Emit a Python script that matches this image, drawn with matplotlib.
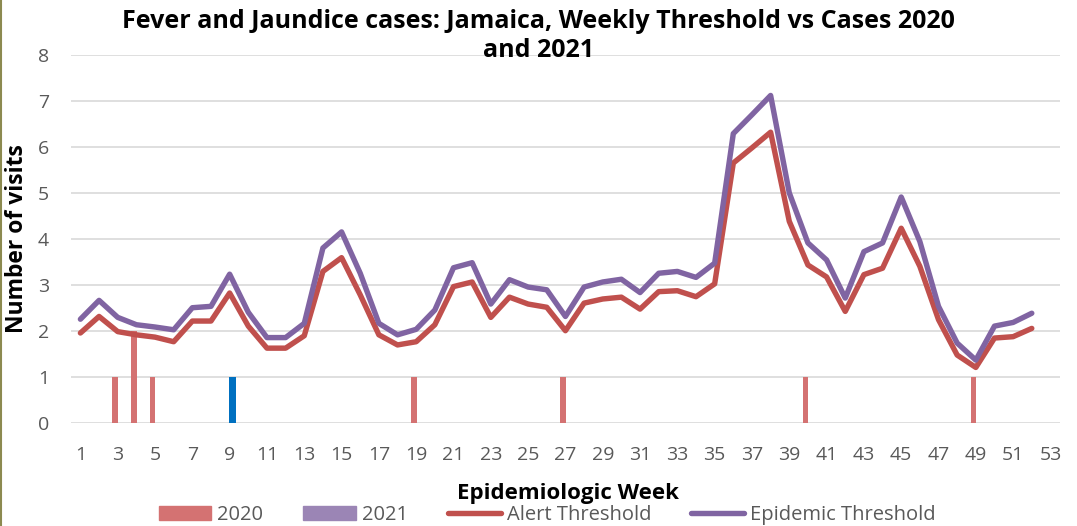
import numpy as np
import matplotlib.pyplot as plt
from matplotlib.patches import Patch
from matplotlib.lines import Line2D

plt.rcParams['font.family'] = ['Open Sans', 'DejaVu Sans']

# weekly thresholds (weeks 1-52)
weeks = np.arange(1, 53)
alert = [1.95, 2.31, 1.98, 1.91, 1.86, 1.76, 2.21, 2.21, 2.82, 2.10,
         1.62, 1.62, 1.89, 3.29, 3.59, 2.78, 1.91, 1.69, 1.76, 2.13,
         2.96, 3.06, 2.29, 2.73, 2.58, 2.51, 2.00, 2.60, 2.69, 2.73,
         2.47, 2.85, 2.87, 2.74, 3.02, 5.65, 5.98, 6.32, 4.38, 3.43,
         3.17, 2.42, 3.22, 3.36, 4.23, 3.40, 2.24, 1.47, 1.20, 1.84,
         1.87, 2.05]
epidemic = [2.25, 2.66, 2.29, 2.13, 2.08, 2.02, 2.50, 2.53, 3.23, 2.40,
            1.85, 1.85, 2.16, 3.80, 4.15, 3.25, 2.16, 1.91, 2.03, 2.45,
            3.37, 3.48, 2.58, 3.11, 2.95, 2.89, 2.31, 2.95, 3.06, 3.12,
            2.83, 3.25, 3.29, 3.16, 3.47, 6.29, 6.70, 7.12, 5.00, 3.91,
            3.54, 2.71, 3.72, 3.91, 4.91, 3.94, 2.53, 1.73, 1.36, 2.10,
            2.18, 2.38]

# cases
weeks_2020 = [3, 4, 5, 19, 27, 40, 49]
cases_2020 = [1, 2, 1, 1, 1, 1, 1]
weeks_2021 = [9]
cases_2021 = [1]

c2020 = '#D47272'
c2021 = '#9B85B5'
calert = '#C0504D'
cepi = '#8064A2'
grey = '#595959'

fig = plt.figure(figsize=(10.77, 5.26), dpi=100)
ax = fig.add_axes([0.066, 0.1966, 0.918, 0.6988])

ax.bar(np.array(weeks_2020) - 0.13, cases_2020, width=0.3, color=c2020, zorder=2)
ax.bar(np.array(weeks_2021) + 0.15, cases_2021, width=0.34, color='#0070C0', zorder=2)
ax.plot(weeks, alert, color=calert, lw=3.9, solid_joinstyle='round',
        solid_capstyle='round', zorder=3)
ax.plot(weeks, epidemic, color=cepi, lw=3.9, solid_joinstyle='round',
        solid_capstyle='round', zorder=4)

ax.set_xlim(0.5, 53.5)
ax.set_ylim(0, 8)
ax.set_xticks(range(1, 54, 2))
ax.set_yticks(range(0, 9))
ax.grid(axis='y', color='#D9D9D9', lw=1.2, zorder=0)
ax.set_axisbelow(True)
for s in ax.spines.values():
    s.set_visible(False)
ax.tick_params(axis='both', length=0, labelsize=14, labelcolor=grey)
ax.tick_params(axis='y', pad=16)
ax.tick_params(axis='x', pad=17)

ax.set_ylabel('Number of visits', fontsize=16.5, fontweight='bold', labelpad=6)
fig.text(0.527, 0.062, 'Epidemiologic Week', fontsize=16, fontweight='bold',
         ha='center', va='center')
fig.text(0.5, 0.932, 'Fever and Jaundice cases: Jamaica, Weekly Threshold vs Cases 2020\nand 2021',
         fontsize=18, fontweight='bold', ha='center', va='center', linespacing=1.2)

handles = [Patch(color=c2020), Patch(color=c2021),
           Line2D([], [], color=calert, lw=3.9, solid_capstyle='round'),
           Line2D([], [], color=cepi, lw=3.9, solid_capstyle='round')]
labels = ['2020', '2021', 'Alert Threshold', 'Epidemic Threshold']
leg = fig.legend(handles, labels, loc='center', bbox_to_anchor=(0.508, 0.02),
                 ncol=4, frameon=False, fontsize=14.5, handlelength=2.6,
                 handleheight=0.7, handletextpad=0.3, columnspacing=2.0,
                 borderaxespad=0)
for t in leg.get_texts():
    t.set_color(grey)

fig.add_artist(Line2D([0.001, 0.001], [0, 1], color='#8C8A50', lw=1.5,
                      transform=fig.transFigure))

fig.savefig('out.png', dpi=100)
